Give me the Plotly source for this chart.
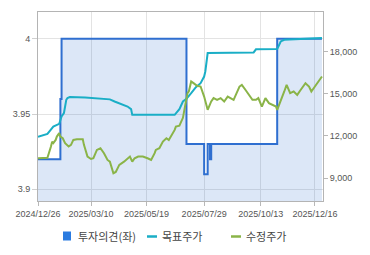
import plotly.graph_objects as go

# ---------------- data ----------------
holidays = ["2024-12-31", "2025-01-01", "2025-01-27", "2025-01-28", "2025-01-29",
            "2025-01-30", "2025-03-03", "2025-05-01", "2025-05-05", "2025-05-06",
            "2025-06-03", "2025-06-06", "2025-08-15", "2025-10-03", "2025-10-06",
            "2025-10-07", "2025-10-08", "2025-10-09", "2025-12-25"]

tick_dates = ["2024-12-26", "2025-03-10", "2025-05-19", "2025-07-29", "2025-10-13", "2025-12-16"]
tick_labels = ["2024/12/26", "2025/03/10", "2025/05/19", "2025/07/29", "2025/10/13", "2025/12/16"]

opinion_dates = ["2024-12-26", "2025-01-24", "2025-01-31", "2025-07-08", "2025-07-29",
                 "2025-08-01", "2025-08-05", "2025-08-06", "2025-10-31", "2025-12-24"]
opinion_vals = [3.92, 3.96, 4.0, 3.93, 3.91, 3.93, 3.92, 3.93, 4.0, 4.0]

target_dates = ["2024-12-26", "2025-01-09", "2025-01-16", "2025-01-21", "2025-01-23",
                "2025-01-31", "2025-02-04", "2025-02-05", "2025-02-06", "2025-02-07",
                "2025-02-11", "2025-02-28", "2025-04-01", "2025-04-07", "2025-04-11",
                "2025-04-22", "2025-04-25", "2025-04-28", "2025-06-24", "2025-06-25",
                "2025-06-30", "2025-07-03", "2025-07-08", "2025-07-14", "2025-07-18",
                "2025-07-24", "2025-07-29", "2025-07-30", "2025-08-01", "2025-09-26",
                "2025-09-30", "2025-10-31", "2025-11-03", "2025-11-05", "2025-11-10",
                "2025-12-01", "2025-12-24"]
target_vals = [11950, 12150, 12670, 12790, 12860,
               13380, 13620, 14090, 14570, 14690,
               14760, 14740, 14600, 14450, 14330,
               14090, 13905, 13500, 13500, 13620,
               13900, 14450, 14640, 15040, 15470,
               15750, 16220, 16580, 17890, 17930,
               18150, 18170, 18400, 18710, 18830,
               18900, 18950]

price_dates = ["2024-12-26", "2025-01-09", "2025-01-14", "2025-01-15", "2025-01-16",
               "2025-01-20", "2025-01-21", "2025-01-23", "2025-01-24", "2025-02-03",
               "2025-02-05", "2025-02-10", "2025-02-12", "2025-02-14", "2025-02-19",
               "2025-02-26", "2025-02-27", "2025-03-05", "2025-03-10", "2025-03-12",
               "2025-03-17", "2025-03-20", "2025-03-25", "2025-03-28", "2025-04-01",
               "2025-04-04", "2025-04-08", "2025-04-11", "2025-04-17", "2025-04-24",
               "2025-04-28", "2025-04-30", "2025-05-08", "2025-05-14", "2025-05-20",
               "2025-05-23", "2025-05-28", "2025-05-29", "2025-06-04", "2025-06-10",
               "2025-06-13", "2025-06-17", "2025-06-24", "2025-06-25", "2025-06-30",
               "2025-07-03", "2025-07-07", "2025-07-09", "2025-07-10", "2025-07-14",
               "2025-07-16", "2025-07-21", "2025-07-24", "2025-07-29", "2025-08-01",
               "2025-08-06", "2025-08-08", "2025-08-13", "2025-08-19", "2025-08-22",
               "2025-08-27", "2025-08-29", "2025-09-03", "2025-09-10", "2025-09-12",
               "2025-09-17", "2025-09-22", "2025-09-25", "2025-09-30", "2025-10-02",
               "2025-10-14", "2025-10-17", "2025-10-22", "2025-10-27", "2025-10-30",
               "2025-10-31", "2025-11-05", "2025-11-10", "2025-11-12", "2025-11-17",
               "2025-11-20", "2025-11-25", "2025-11-28", "2025-12-04", "2025-12-09",
               "2025-12-11", "2025-12-16", "2025-12-19", "2025-12-24"]
price_vals = [10420, 10460, 11250, 11600, 11490,
              11720, 11960, 12200, 11960, 11840,
              11490, 11250, 11370, 11720, 11770,
              11770, 11370, 10540, 10370, 10420,
              11010, 11130, 10780, 10300, 10180,
              9360, 9450, 9950, 10180, 10540,
              10180, 10420, 10540, 10540, 10420,
              10300, 10780, 11010, 11130, 11600,
              11840, 11720, 12430, 12670, 12730,
              13290, 14210, 15060, 15160, 15870,
              15750, 15560, 15510, 14800, 13860,
              14450, 14690, 14570, 14690, 14450,
              14800, 14690, 14570, 15510, 15630,
              15280, 14920, 14570, 14570, 14690,
              14090, 14690, 14330, 14210, 14090,
              13860, 14450, 15160, 15630, 15040,
              15160, 14920, 15280, 15750, 15510,
              15160, 15510, 15870, 16220]

left_ticks = [3.9, 3.95, 4.0]
left_labels = ["3.9", "3.95", "4"]
right_ticks = [9000, 12000, 15000, 18000]
right_labels = ["9,000", "12,000", "15,000", "18,000"]

legend_names = ["투자의견(좌)", "목표주가", "수정주가"]

# ---------------- styles ----------------
C_OP = "#2f6fd0"
C_OP_FILL = "rgba(47,111,208,0.17)"
C_LEG_SQ = "#2a7be0"
C_TG = "#1aaec6"
C_PR = "#8ab448"
FONT = "Liberation Sans, Noto Sans CJK KR, sans-serif"
CJK = "Noto Sans CJK KR, sans-serif"

fig = go.Figure()
fig.add_trace(go.Scatter(x=opinion_dates, y=opinion_vals, mode="lines",
                         line=dict(color=C_OP, width=2, shape="hv"),
                         fill="tozeroy", fillcolor=C_OP_FILL,
                         name=legend_names[0], yaxis="y", hoverinfo="skip"))
fig.add_trace(go.Scatter(x=target_dates, y=target_vals, mode="lines",
                         line=dict(color=C_TG, width=2),
                         name=legend_names[1], yaxis="y2", hoverinfo="skip"))
fig.add_trace(go.Scatter(x=price_dates, y=price_vals, mode="lines",
                         line=dict(color=C_PR, width=2),
                         name=legend_names[2], yaxis="y2", hoverinfo="skip"))

W, H = 370, 255
ML, MR, MT, MB = 38, 47, 12, 54
PW, PH = W - ML - MR, H - MT - MB

def px_x(p):
    return (p - ML) / PW

def px_y(p):
    return (H - MB - p) / PH

fig.update_layout(
    width=W, height=H,
    margin=dict(l=ML, r=MR, t=MT, b=MB, pad=0),
    paper_bgcolor="white", plot_bgcolor="white",
    showlegend=False,
    font=dict(family=FONT, size=9, color="#555555"),
    xaxis=dict(
        type="date",
        range=["2024-12-26", "2025-12-24 21:00"],
        rangebreaks=[dict(bounds=["sat", "mon"]), dict(values=holidays)],
        tickvals=tick_dates, ticktext=tick_labels,
        showgrid=True, gridcolor="#e3e3e3", gridwidth=1,
        ticks="outside", ticklen=4, tickcolor="#b8b8b8",
        showline=True, linecolor="#b4b4b4", linewidth=1, mirror=True,
        tickfont=dict(family=FONT, size=9, color="#555555"),
        zeroline=False, fixedrange=True,
    ),
    yaxis=dict(
        range=[3.8922, 4.0178],
        tickvals=left_ticks, ticktext=left_labels,
        showgrid=True, gridcolor="#e3e3e3", gridwidth=1,
        ticks="outside", ticklen=5, tickcolor="#d0d0d0",
        showline=True, linecolor="#b4b4b4", linewidth=1, mirror=True,
        tickfont=dict(family=FONT, size=9, color="#555555"),
        zeroline=False, fixedrange=True,
    ),
    yaxis2=dict(
        overlaying="y", side="right",
        range=[7386, 20801],
        tickvals=right_ticks, ticktext=right_labels,
        showgrid=False,
        ticks="outside", ticklen=4, tickcolor="#b8b8b8",
        showline=False,
        tickfont=dict(family=FONT, size=9, color="#555555"),
        zeroline=False, fixedrange=True,
    ),
)

# custom legend (swatches + real text)
ly = 236
fig.add_shape(type="rect", xref="paper", yref="paper",
              x0=px_x(63), x1=px_x(71), y0=px_y(240.5), y1=px_y(231.5),
              fillcolor=C_LEG_SQ, line=dict(width=0))
fig.add_shape(type="line", xref="paper", yref="paper",
              x0=px_x(147), x1=px_x(157), y0=px_y(ly + 0.5), y1=px_y(ly + 0.5),
              line=dict(color=C_TG, width=2.5))
fig.add_shape(type="line", xref="paper", yref="paper",
              x0=px_x(231), x1=px_x(241), y0=px_y(ly + 0.5), y1=px_y(ly + 0.5),
              line=dict(color=C_PR, width=2.5))
for name, xp in zip(legend_names, [76, 159.5, 244]):
    fig.add_annotation(text=name, xref="paper", yref="paper",
                       x=px_x(xp), y=px_y(ly), xanchor="left", yanchor="middle",
                       showarrow=False, font=dict(family=CJK, size=11, color="#444444"))

fig.write_html("out.html", config={"displayModeBar": False})
